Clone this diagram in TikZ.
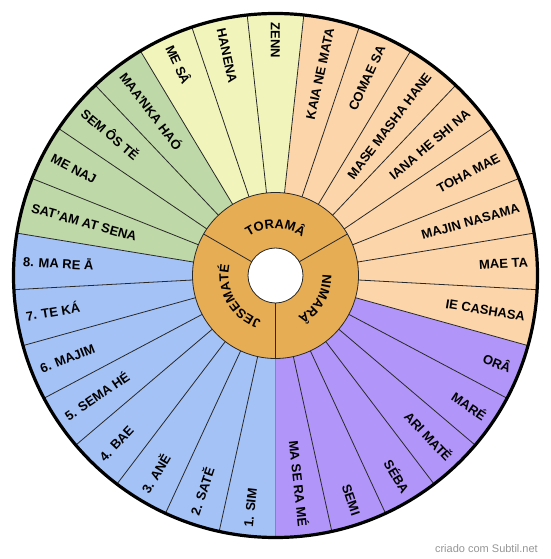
\documentclass[tikz,border=0pt]{standalone}
\usepackage{fontspec}
\setmainfont{Liberation Sans}
\usetikzlibrary{decorations.text}
\definecolor{cblue}{RGB}{164,194,246}
\definecolor{cgreen}{RGB}{191,216,167}
\definecolor{cyellow}{RGB}{241,245,188}
\definecolor{corange}{RGB}{252,214,170}
\definecolor{cpurple}{RGB}{177,149,248}
\definecolor{cring}{RGB}{230,173,84}
\definecolor{linec}{RGB}{40,40,40}
\definecolor{wmgray}{RGB}{150,150,150}
\newcommand{\ringfont}{\fontsize{13}{15}\selectfont\bfseries}
\begin{document}
\begin{tikzpicture}[x=1pt,y=1pt,
  seg/.style={draw=linec, line width=0.8pt},
  lbl/.style={font=\fontsize{13}{15}\selectfont\bfseries, inner sep=0pt, text height=9.4pt, text depth=0pt},
  ringtext/.style={decorate, decoration={text along path, text align=center, text={|\ringfont|#1}}}
]
\useasboundingbox[fill=white] (-275.5,-283.5) rectangle (274.5,275.5);
\foreach \lab/\col [count=\j from 0] in {
  MA SE RA MÉ/cpurple, SEMI/cpurple, SÉBA/cpurple, ARI MATĚ/cpurple, MARÉ/cpurple, ORÂ/cpurple,
  IE CASHASA/corange, MAE TA/corange, MAJIN NASAMA/corange, TOHA MAE/corange,
  IANA HE SHI NA/corange, MASE MASHA HANE/corange, COMAE SA/corange, KAIA NE MATA/corange,
  ZENN/cyellow, HANENA/cyellow, ME SÂ/cyellow,
  MAA'NKA HAÓ/cgreen, SEM ÔS TĚ/cgreen, ME NAJ/cgreen, SAT'AM AT SENA/cgreen,
  8. MA RE Ā/cblue, 7. TE KÁ/cblue, 6. MAJIM/cblue, 5. SEMA HÉ/cblue,
  4. BAE/cblue, 3. ANĚ/cblue, 2. SATĚ/cblue, 1. SIM/cblue}
{
  \pgfmathsetmacro\a{270+\j*360/29}
  \pgfmathsetmacro\b{270+(\j+1)*360/29}
  \pgfmathsetmacro\m{270+(\j+0.5)*360/29}
  \fill[\col] (\a:83) arc[start angle=\a, end angle=\b, radius=83] -- (\b:262) arc[start angle=\b, end angle=\a, radius=262] -- cycle;
  \draw[seg] (\a:83) -- (\a:262);
  \ifnum\j<14
    \node[lbl, anchor=east, rotate=\m] (l\j) at (\m:253) {\lab};
  \else
    \node[lbl, anchor=west, rotate=\m-180] (l\j) at (\m:253) {\lab};
  \fi
}
% inner ring
\filldraw[fill=cring, draw=linec, line width=0.8pt] (0,0) circle (83);
\foreach \t in {30,150,270} \draw[seg] (\t:27.5) -- (\t:83);
\filldraw[fill=white, draw=linec, line width=0.8pt] (0,0) circle (27.5);
\path[ringtext={TORAMÂ}] (150:47) arc[start angle=150, end angle=30, radius=47];
\path[ringtext={JESEMATÉ}] (270:47) arc[start angle=270, end angle=150, radius=47];
\path[ringtext={NIMARÂ}] (30:47) arc[start angle=30, end angle=-90, radius=47];
% outer border
\draw[black, line width=3.2pt] (0,0) circle (262);
\node[anchor=base east, font=\fontsize{11}{13}\selectfont, text=wmgray, inner sep=0pt] (wm) at (262.5,-276.5) {criado com Subtil.net};
\end{tikzpicture}
\end{document}
